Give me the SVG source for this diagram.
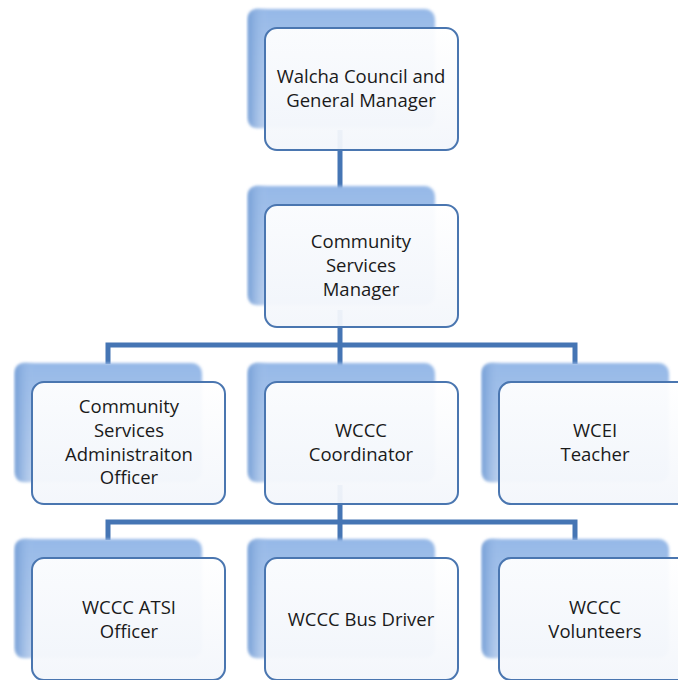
<svg xmlns="http://www.w3.org/2000/svg" width="678" height="680" viewBox="0 0 678 680">
<defs>
<linearGradient id="back" x1="0" y1="0" x2="0" y2="1">
<stop offset="0" stop-color="#95b8e7"/>
<stop offset="1" stop-color="#c0d3ee"/>
</linearGradient>
<linearGradient id="side" x1="0" y1="0" x2="1" y2="0">
<stop offset="0" stop-color="#769fd6"/>
<stop offset="1" stop-color="#a9c5ec" stop-opacity="0"/>
</linearGradient>
<linearGradient id="front" x1="0" y1="0" x2="0" y2="1">
<stop offset="0" stop-color="#ffffff"/>
<stop offset="1" stop-color="#f3f6fb"/>
</linearGradient>
<filter id="blur" x="-10%" y="-10%" width="120%" height="120%"><feGaussianBlur stdDeviation="1.5"/></filter>
<g id="card">
<rect x="-17" y="-19" width="187" height="119" rx="10" fill="url(#back)" filter="url(#blur)"/>
<path d="M-17,-9 Q-17,-19 -7,-19 L3,-19 L3,100 L-7,100 Q-17,100 -17,90 Z" fill="url(#side)" filter="url(#blur)"/>
<rect x="0" y="0" width="193" height="122" rx="12" fill="url(#front)" fill-opacity="0.95" stroke="#4a76b0" stroke-width="2"/>
</g>
</defs>
<style>
text{font-family:"Open Sans","Liberation Sans",Arial,sans-serif;font-size:18.5px;fill:#1a1a1a;text-anchor:middle}
.c{fill:none;stroke:#4575b4;stroke-width:5}
</style>
<rect width="678" height="680" fill="#fff"/>
<g id="connectors">
<path class="c" d="M340,130 V205"/>
<path class="c" d="M340,310 V382 M108,364 V345 H575 V364"/>
<path class="c" d="M340,485 V558 M108,540 V522 H575 V540"/>
</g>
<g id="n1"><use href="#card" x="265" y="28"/>
<text x="361" y="83">Walcha Council and</text><text x="361" y="107">General Manager</text></g>
<g id="n2"><use href="#card" x="265" y="205"/>
<text x="361" y="248">Community</text><text x="361" y="272">Services</text><text x="361" y="296">Manager</text></g>
<g id="n3"><use href="#card" x="32" y="382"/>
<text x="129" y="413">Community</text><text x="129" y="437">Services</text><text x="129" y="461">Administraiton</text><text x="129" y="484">Officer</text></g>
<g id="n4"><use href="#card" x="265" y="382"/>
<text x="361" y="437">WCCC</text><text x="361" y="461">Coordinator</text></g>
<g id="n5"><use href="#card" x="499" y="382"/>
<text x="595" y="437">WCEI</text><text x="595" y="461">Teacher</text></g>
<g id="n6"><use href="#card" x="32" y="558"/>
<text x="129" y="614">WCCC ATSI</text><text x="129" y="638">Officer</text></g>
<g id="n7"><use href="#card" x="265" y="558"/>
<text x="361" y="626">WCCC Bus Driver</text></g>
<g id="n8"><use href="#card" x="499" y="558"/>
<text x="595" y="614">WCCC</text><text x="595" y="638">Volunteers</text></g>
</svg>
